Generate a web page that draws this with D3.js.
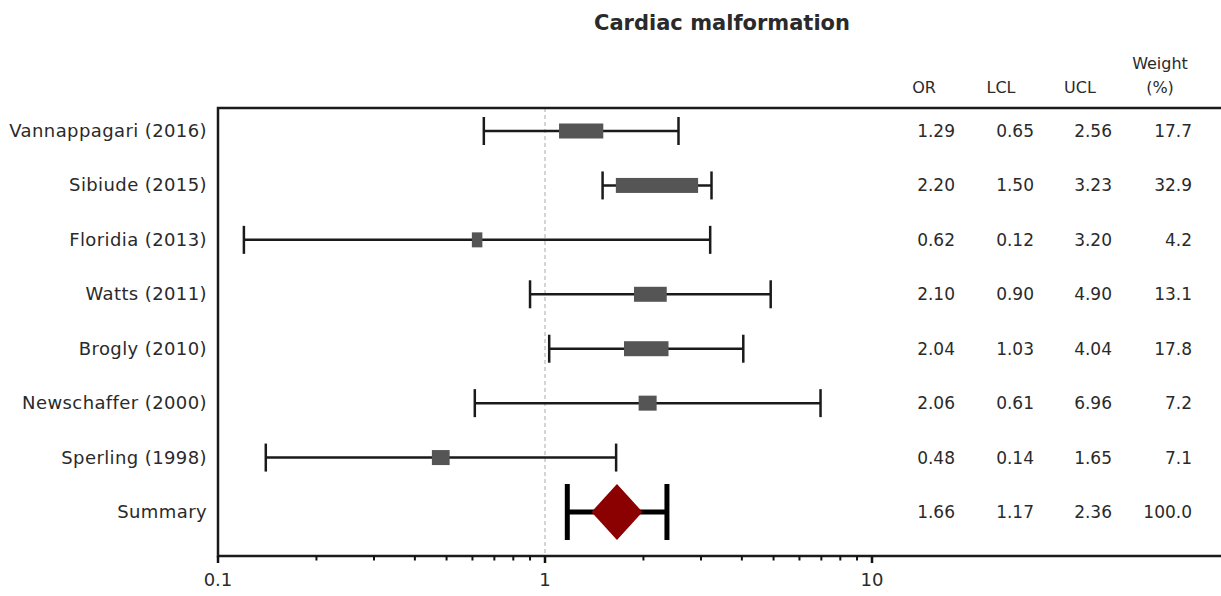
<!DOCTYPE html>
<html>
<head>
<meta charset="utf-8">
<script src="https://cdn.jsdelivr.net/npm/d3@7"></script>
<style>
  html, body { margin: 0; padding: 0; background: #fff; }
  svg { display: block; }
  text { font-family: "DejaVu Sans", sans-serif; fill: #2a2a2a; }
</style>
</head>
<body>
<svg id="chart" width="1221" height="596"></svg>
<script>
// Studies in the meta-analysis (last row is the pooled estimate)
const studies = ["Vannappagari (2016)", "Sibiude (2015)", "Floridia (2013)", "Watts (2011)",
                 "Brogly (2010)", "Newschaffer (2000)", "Sperling (1998)", "Summary"];
const oddsRatio = [1.29, 2.20, 0.62, 2.10, 2.04, 2.06, 0.48, 1.66];
const lowerCL   = [0.65, 1.50, 0.12, 0.90, 1.03, 0.61, 0.14, 1.17];
const upperCL   = [2.56, 3.23, 3.20, 4.90, 4.04, 6.96, 1.65, 2.36];
const weightPct = [17.7, 32.9, 4.2, 13.1, 17.8, 7.2, 7.1, 100.0];
const axisTicks = [0.1, 1, 10];
const columnHeaders = ["OR", "LCL", "UCL", "Weight"];

const W = 1221, H = 596;
const plotLeft = 218, plotTop = 108, plotBottom = 556;
const svg = d3.select("#chart");

const x = d3.scaleLog().domain([0.1, 100]).range([plotLeft, 1199]);
const y = d3.scalePoint().domain(studies).range([131, 512]);
const boxW = d3.scaleLinear().domain([0, 100]).range([0, 250]);

// Title
svg.append("text")
  .attr("x", 722).attr("y", 30)
  .attr("text-anchor", "middle")
  .style("font-size", "21px").style("font-weight", "bold")
  .text("Cardiac malformation");

// Reference line at OR = 1
svg.append("line")
  .attr("x1", x(1)).attr("x2", x(1))
  .attr("y1", plotTop).attr("y2", plotBottom)
  .attr("stroke", "#aaa").attr("stroke-width", 1)
  .attr("stroke-dasharray", "4,3");

// Frame: top, left and bottom borders
svg.append("path")
  .attr("d", `M${W},${plotTop} H${plotLeft} V${plotBottom} H${W}`)
  .attr("fill", "none").attr("stroke", "#1a1a1a").attr("stroke-width", 2.5);

// Log axis with minor ticks
const minor = [];
for (let d = 0.1; d < 10; d *= 10) {
  for (let k = 2; k <= 9; k++) minor.push(+(d * k).toFixed(3));
}
const gAxis = svg.append("g").attr("transform", `translate(0,${plotBottom})`);
gAxis.selectAll("line.minor").data(minor).join("line")
  .attr("class", "minor")
  .attr("x1", d => x(d)).attr("x2", d => x(d))
  .attr("y1", 0).attr("y2", 4.5)
  .attr("stroke", "#111").attr("stroke-width", 2);
gAxis.selectAll("line.major").data(axisTicks).join("line")
  .attr("class", "major")
  .attr("x1", d => x(d)).attr("x2", d => x(d))
  .attr("y1", 0).attr("y2", 7)
  .attr("stroke", "#111").attr("stroke-width", 2.5);
gAxis.selectAll("text").data(axisTicks).join("text")
  .attr("x", d => x(d)).attr("y", 30)
  .attr("text-anchor", "middle")
  .style("font-size", "18px")
  .text(d => String(d));

// Study labels
svg.selectAll("text.study").data(studies).join("text")
  .attr("class", "study")
  .attr("x", 207).attr("y", d => y(d) + 6)
  .attr("text-anchor", "end")
  .style("font-size", "18px")
  .style("letter-spacing", "0.4px")
  .text(d => d);

const rows = studies.map((s, i) => ({
  name: s, or: oddsRatio[i], lcl: lowerCL[i], ucl: upperCL[i], w: weightPct[i], summary: i === studies.length - 1
}));
const trials = rows.filter(r => !r.summary);
const pooled = rows.filter(r => r.summary);

// Confidence intervals for individual studies
const gStudy = svg.append("g");
gStudy.selectAll("line.ci").data(trials).join("line")
  .attr("x1", d => x(d.lcl)).attr("x2", d => x(d.ucl))
  .attr("y1", d => y(d.name)).attr("y2", d => y(d.name))
  .attr("stroke", "#1a1a1a").attr("stroke-width", 2.5);
["lcl", "ucl"].forEach(k => {
  gStudy.selectAll("line.cap-" + k).data(trials).join("line")
    .attr("class", "cap-" + k)
    .attr("x1", d => x(d[k])).attr("x2", d => x(d[k]))
    .attr("y1", d => y(d.name) - 14).attr("y2", d => y(d.name) + 14)
    .attr("stroke", "#1a1a1a").attr("stroke-width", 2.5);
});
// Weight boxes
gStudy.selectAll("rect").data(trials).join("rect")
  .attr("x", d => x(d.or) - boxW(d.w) / 2)
  .attr("y", d => y(d.name) - 7.5)
  .attr("width", d => boxW(d.w))
  .attr("height", 15)
  .attr("fill", "#555");

// Pooled estimate
const gSum = svg.append("g");
gSum.selectAll("line.ci").data(pooled).join("line")
  .attr("x1", d => x(d.lcl)).attr("x2", d => x(d.ucl))
  .attr("y1", d => y(d.name)).attr("y2", d => y(d.name))
  .attr("stroke", "#000").attr("stroke-width", 5);
["lcl", "ucl"].forEach(k => {
  gSum.selectAll("line.cap-" + k).data(pooled).join("line")
    .attr("class", "cap-" + k)
    .attr("x1", d => x(d[k])).attr("x2", d => x(d[k]))
    .attr("y1", d => y(d.name) - 28).attr("y2", d => y(d.name) + 28)
    .attr("stroke", "#000").attr("stroke-width", 5);
});
gSum.selectAll("path").data(pooled).join("path")
  .attr("d", d => {
    const cx = x(d.or), cy = y(d.name);
    return `M${cx - 25.5},${cy} L${cx},${cy - 28} L${cx + 25.5},${cy} L${cx},${cy + 28} Z`;
  })
  .attr("fill", "#8b0000");

// Table of values
const colRight = [955, 1034, 1112, 1192];
const colHeadX = [924, 1001, 1080, 1160];
const cols = [
  r => r.or.toFixed(2),
  r => r.lcl.toFixed(2),
  r => r.ucl.toFixed(2),
  r => r.w.toFixed(1)
];
cols.forEach((fmt, ci) => {
  svg.selectAll("text.col" + ci).data(rows).join("text")
    .attr("class", "col" + ci)
    .attr("x", colRight[ci]).attr("y", d => y(d.name) + 6)
    .attr("text-anchor", "end")
    .style("font-size", "17px")
    .text(fmt);
});
columnHeaders.forEach((h, i) => {
  svg.append("text")
    .attr("x", colHeadX[i]).attr("y", h === "Weight" ? 69 : 93)
    .attr("text-anchor", "middle")
    .style("font-size", "16px")
    .text(h);
});
svg.append("text")
  .attr("x", colHeadX[3]).attr("y", 93)
  .attr("text-anchor", "middle")
  .style("font-size", "16px")
  .text("(%)");
</script>
</body>
</html>
